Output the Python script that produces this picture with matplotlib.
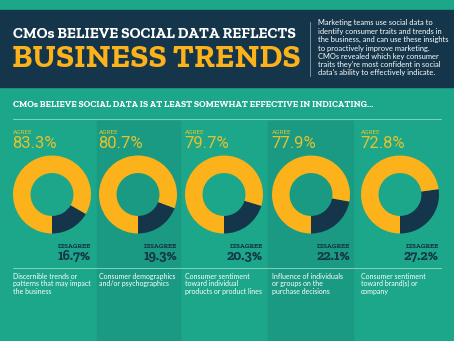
import matplotlib
matplotlib.use("Agg")
import matplotlib.pyplot as plt
from matplotlib.patches import Rectangle

# Survey results
categories = [
    "Discernible trends or\npatterns that may impact\nthe business",
    "Consumer demographics\nand/or psychographics",
    "Consumer sentiment\ntoward individual\nproducts or product lines",
    "Influence of individuals\nor groups on the\npurchase decisions",
    "Consumer sentiment\ntoward brand(s) or\ncompany",
]
agree = [83.3, 80.7, 79.7, 77.9, 72.8]
disagree = [16.7, 19.3, 20.3, 22.1, 27.2]

title_top = "CMOs BELIEVE SOCIAL DATA REFLECTS"
title_big = "BUSINESS TRENDS"
subtitle = "CMOs BELIEVE SOCIAL DATA IS AT LEAST SOMEWHAT EFFECTIVE IN INDICATING..."
intro = ("Marketing teams use social data to\n"
         "identify consumer traits and trends in\n"
         "the business, and can use these insights\n"
         "to proactively improve marketing.\n"
         "CMOs revealed which key consumer\n"
         "traits they're most confident in social\n"
         "data's ability to effectively indicate.")

TEAL = "#1ca68a"
TEAL_DARK = "#1a9a83"
NAVY = "#15364a"
YELLOW = "#fbb21b"
AGREE_TXT = "#e6c22c"
LINE = "#7ed2bf"
SLAB = ["Zilla Slab", "DejaVu Serif"]
SANS = ["Lato", "DejaVu Sans"]

W, H = 454, 341
fig = plt.figure(figsize=(W / 100, H / 100), dpi=100)
fig.patch.set_facecolor(TEAL)

# pixel-space overlay for backgrounds and text
bg = fig.add_axes([0, 0, 1, 1])
bg.set_xlim(0, W)
bg.set_ylim(H, 0)
bg.axis('off')

bg.add_patch(Rectangle((0, 10), W, 77, color=NAVY, zorder=0))
for x0, x1 in [(97, 180), (268, 353)]:
    bg.add_patch(Rectangle((x0, 121), x1 - x0, H - 121, color=TEAL_DARK, zorder=0))

# header
bg.text(13, 38, title_top, color="white", fontsize=11, fontweight='bold',
        family=SLAB, va='baseline', ha='left')
bg.text(12, 67, title_big, color=YELLOW, fontsize=23.6, fontweight='bold',
        family=SLAB, va='baseline', ha='left')
bg.plot([310, 310], [22, 76], color="#8aa3ad", lw=0.6)
bg.text(318, 19.5, intro, color="white", fontsize=5.45, family=SANS,
        va='top', ha='left', linespacing=1.22)

bg.text(13, 107, subtitle, color="white", fontsize=6.65, fontweight='bold',
        family=SLAB, va='baseline', ha='left')
bg.plot([13, 441], [119, 119], color=LINE, lw=0.7)
bg.plot([13, 441], [268, 268], color=LINE, lw=0.7)

lefts = [13, 99, 185, 272, 361]
ring_r = 39
ring_cy = 194.5
for i, left in enumerate(lefts):
    cx = left + ring_r
    right = cx + ring_r
    bg.text(left, 133.5, "AGREE", color=AGREE_TXT, fontsize=4.6,
            family="Roboto", va='baseline', ha='left')
    bg.text(left - 0.5, 148.5, f"{agree[i]:.1f}%", color=AGREE_TXT, fontsize=12,
            family="Roboto", va='baseline', ha='left')
    bg.text(right, 248.5, "DISAGREE", color=NAVY, fontsize=5, fontweight='bold',
            family=SLAB, va='baseline', ha='right')
    bg.text(right, 260.5, f"{disagree[i]:.1f}%", color=NAVY, fontsize=10,
            fontweight='bold', family=SLAB, va='baseline', ha='right')
    bg.text(left, 273, categories[i], color="white", fontsize=5.0,
            family=SANS, va='top', ha='left', linespacing=1.05)

    # donut: disagree share starts at six o'clock and runs counter-clockwise
    dax = fig.add_axes([(cx - ring_r) / W, 1 - (ring_cy + ring_r) / H,
                        2 * ring_r / W, 2 * ring_r / H])
    dax.pie([disagree[i], agree[i]], colors=[NAVY, YELLOW], startangle=-90,
            counterclock=True, radius=1, wedgeprops=dict(width=0.45, linewidth=0))
    dax.set_xlim(-1, 1)
    dax.set_ylim(-1, 1)
    dax.set_aspect('auto')
    dax.axis('off')

fig.savefig("out.png", dpi=100, facecolor=TEAL)
